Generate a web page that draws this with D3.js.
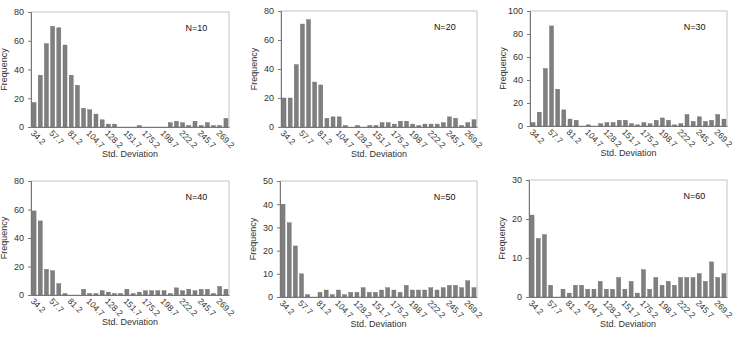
<!DOCTYPE html>
<html>
<head>
<meta charset="utf-8">
<script src="https://cdn.jsdelivr.net/npm/d3@7"></script>
<style>
  body { margin: 0; background: #fff; }
  svg { font-family: "Liberation Sans", Arial, sans-serif; }
</style>
</head>
<body>
<svg width="735" height="337"></svg>
<script>
// bin centres (Std. Deviation), one label every 3rd bin
const categories = ["34.2","42.0","49.9","57.7","65.5","73.4","81.2","89.0","96.9","104.7",
	"112.5","120.4","128.2","136.0","143.9","151.7","159.5","167.4","175.2","183.0",
	"190.9","198.7","206.5","214.4","222.2","230.0","237.9","245.7","253.5","261.4",
	"269.2","277.0"];
const tickLabels = ["34.2","57.7","81.2","104.7","128.2","151.7","175.2","198.7","222.2","245.7","269.2"];

const freqN10 = [17,36,58,70,69,57,36,29,13,12,9,5,2,2,0,0,0,1,0,0,0,0,3,4,3,1,4,1,3,1,1,6];
const freqN20 = [20,20,43,71,74,31,29,6,7,7,1,0,1,0,1,1,3,3,2,4,4,2,1,2,2,2,3,7,6,1,3,5];
const freqN30 = [3,12,50,87,32,14,6,5,0,1,0,2,3,3,5,5,2,1,3,2,5,7,5,1,2,10,4,8,4,5,10,6];
const freqN40 = [59,52,18,17,8,1,0,0,4,1,1,3,2,1,1,4,1,2,3,3,3,3,1,5,3,4,3,4,4,1,6,4];
const freqN50 = [40,32,22,10,1,0,2,3,1,3,1,2,2,4,2,2,3,4,3,2,5,3,3,3,4,3,4,5,5,4,7,4];
const freqN60 = [21,15,16,3,0,2,1,3,3,2,2,4,2,2,5,2,4,1,7,2,5,3,4,3,5,5,5,6,4,9,5,6];

const panelLabels = ["N=10","N=20","N=30","N=40","N=50","N=60"];
const yMaxes = [80, 80, 100, 80, 50, 30];
const yTickSteps = [20, 20, 20, 20, 10, 10];
const series = [freqN10, freqN20, freqN30, freqN40, freqN50, freqN60];

// plot-area boxes of the six panels
const boxes = [
	{x0: 31,  x1: 229, y0: 12,  y1: 127},
	{x0: 281, x1: 477, y0: 11,  y1: 127},
	{x0: 530, x1: 727, y0: 11,  y1: 126},
	{x0: 31,  x1: 229, y0: 181, y1: 295},
	{x0: 280, x1: 477, y0: 181, y1: 297},
	{x0: 529, x1: 727, y0: 180, y1: 297}
];

const svg = d3.select("svg");
const textColor = "#333";

series.forEach((values, i) => {
	const b = boxes[i];
	const innerWidth = b.x1 - b.x0;
	const innerHeight = b.y1 - b.y0;

	const g = svg.append("g")
		.attr("transform", `translate(${b.x0}, ${b.y0})`);

	const xScale = d3.scaleBand()
		.domain(categories)
		.range([0, innerWidth])
		.paddingInner(0.35)
		.paddingOuter(0.17);

	const yScale = d3.scaleLinear()
		.domain([0, yMaxes[i]])
		.range([innerHeight, 0]);

	// plot frame
	g.append("rect")
		.attr("width", innerWidth)
		.attr("height", innerHeight)
		.attr("fill", "none")
		.attr("stroke", "#b5b5b5")
		.attr("stroke-width", 0.8);

	g.selectAll("rect.bar").data(values)
		.enter().append("rect")
			.attr("class", "bar")
			.attr("x", (d, j) => xScale(categories[j]))
			.attr("y", d => yScale(d))
			.attr("width", xScale.bandwidth())
			.attr("height", d => innerHeight - yScale(d))
			.attr("fill", "#7f7f7f")
			.attr("stroke", "#666")
			.attr("stroke-width", 0.4);

	const yAxis = d3.axisLeft(yScale)
		.tickValues(d3.range(0, yMaxes[i] + 1, yTickSteps[i]))
		.tickSize(3)
		.tickPadding(4);

	const yAxisGroup = g.append("g").call(yAxis);
	yAxisGroup.select(".domain").attr("stroke", "#777");
	yAxisGroup.selectAll(".tick line").attr("stroke", "#777");
	yAxisGroup.selectAll("text")
		.attr("fill", textColor)
		.style("font-size", "9px");

	const xAxis = d3.axisBottom(xScale)
		.tickValues(tickLabels)
		.tickSize(0)
		.tickPadding(7);

	const xAxisGroup = g.append("g").call(xAxis)
		.attr("transform", `translate(0, ${innerHeight})`);
	xAxisGroup.select(".domain").attr("stroke", "#777");
	xAxisGroup.selectAll("text")
		.attr("fill", textColor)
		.style("font-size", "8.5px")
		.attr("text-anchor", "start")
		.attr("dy", "0.3em")
		.attr("transform", "rotate(45) translate(2,-2)");

	g.append("text")
		.attr("x", innerWidth / 2)
		.attr("y", innerHeight + 30)
		.attr("text-anchor", "middle")
		.attr("fill", textColor)
		.style("font-size", "9px")
		.text("Std. Deviation");

	g.append("text")
		.attr("transform", `translate(${-24}, ${innerHeight / 2}) rotate(-90)`)
		.attr("text-anchor", "middle")
		.attr("fill", textColor)
		.style("font-size", "9px")
		.text("Frequency");

	g.append("text")
		.attr("x", innerWidth * 0.78)
		.attr("y", 19)
		.attr("fill", "#111")
		.style("font-size", "9px")
		.text(panelLabels[i]);
});
</script>
</body>
</html>
